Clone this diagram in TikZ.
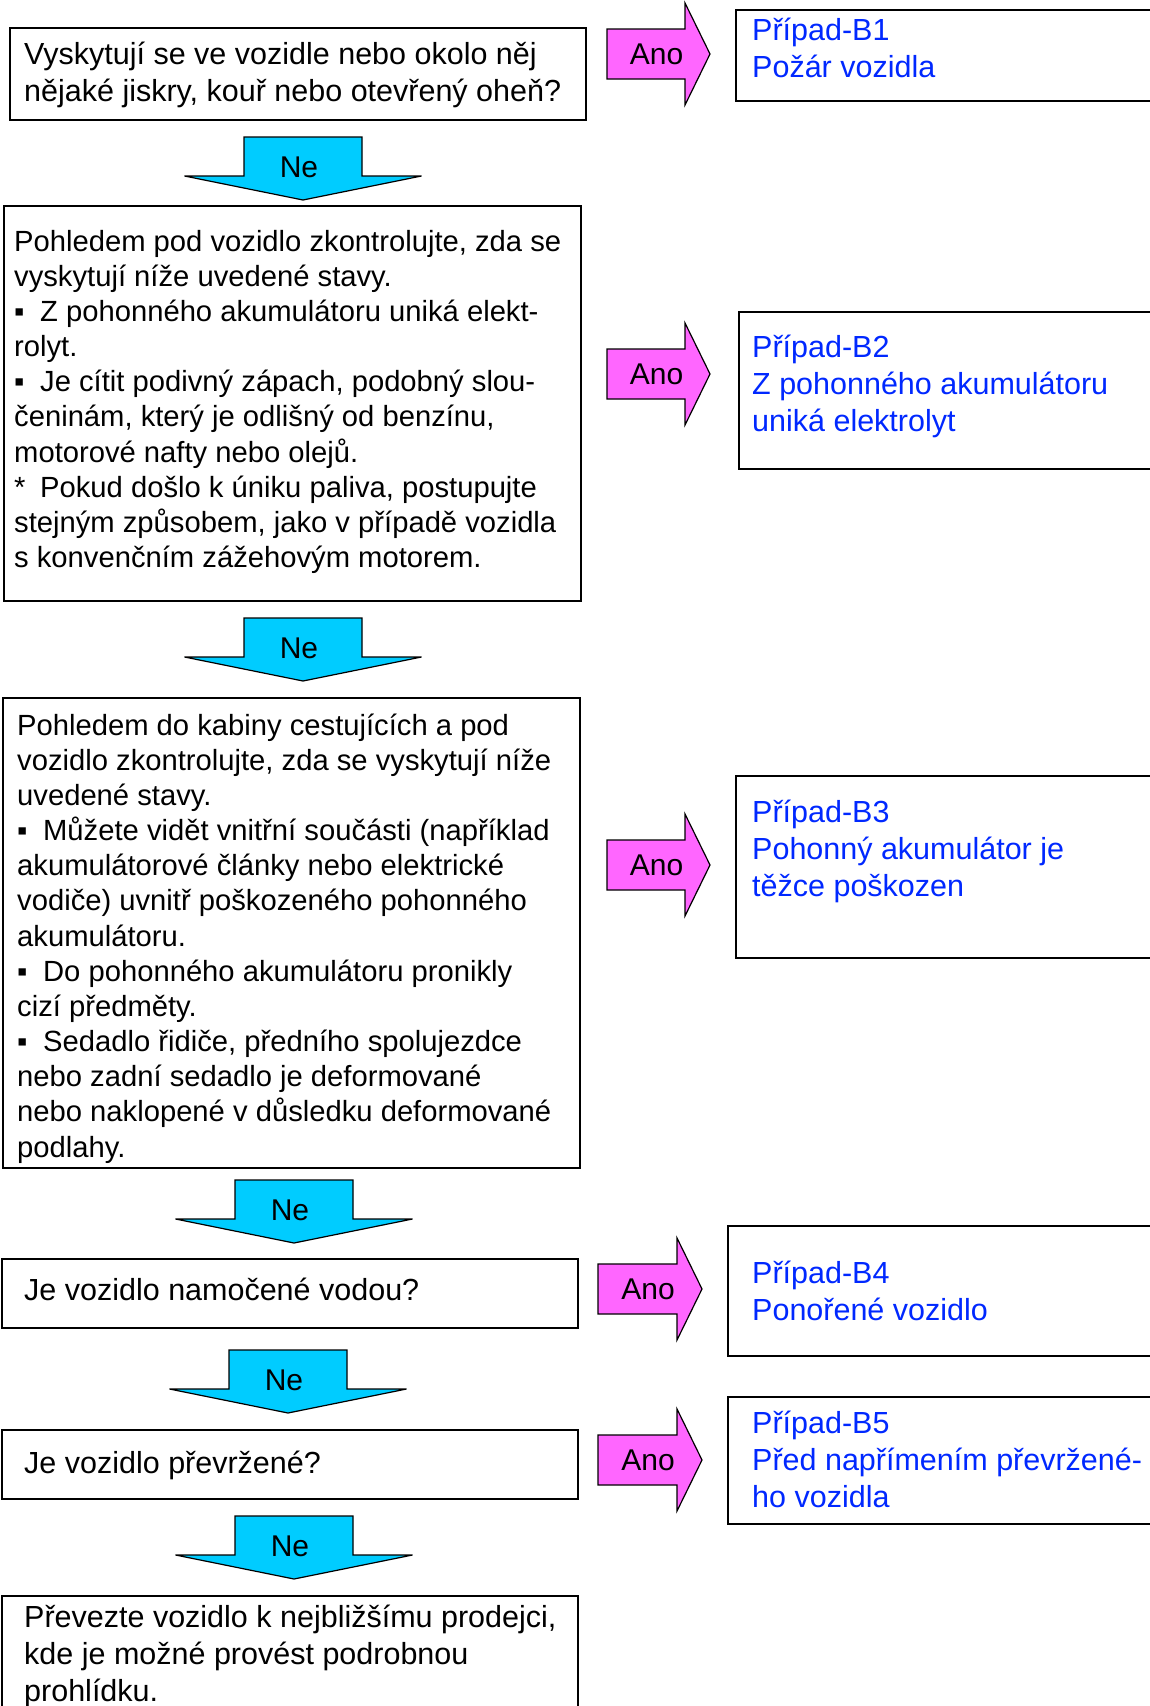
\documentclass[tikz,border=0pt]{standalone}
\usepackage{fontspec}
\setmainfont{Liberation Sans}
\definecolor{anofill}{RGB}{255,102,255}
\definecolor{nefill}{RGB}{0,204,255}
\definecolor{casetext}{RGB}{0,40,255}
\newcommand\bigf{\fontsize{30.5}{37}\selectfont}
\newcommand\smallf{\fontsize{29.2}{35.15}\selectfont}
\newcommand\fl{\rule{0pt}{30pt}}
\newcommand\bul{\makebox[26pt][l]{▪}}
\newcommand\astx{\makebox[26pt][l]{*}}
\tikzset{
  box/.style={draw=black, line width=1.6pt, fill=white, anchor=north west, inner sep=0pt},
  txt/.style={inner sep=0pt, align=left, anchor=north west},
  casetxt/.style={txt, text=casetext, font=\bigf},
  arrowline/.style={draw=black, line width=1.2pt, line join=miter},
  lbl/.style={inner sep=0pt, font=\fontsize{30}{36}\selectfont}
}
\newcommand\anoarrow[5]{%
  \draw[arrowline,fill=anofill] ({#2},{#5-25}) -- ({#3},{#5-25}) -- ({#3},{#5-51}) -- ({#4},{#5}) -- ({#3},{#5+51}) -- ({#3},{#5+25}) -- ({#2},{#5+25}) -- cycle;
  \node[lbl] (#1) at ({(#2+#4)/2-2},{#5}) {Ano};}
\newcommand\nedown[3]{%
  \draw[arrowline,fill=nefill] ({#2-59},{#3}) -- ({#2+59},{#3}) -- ({#2+59},{#3+39}) -- ({#2+118.5},{#3+39}) -- ({#2},{#3+63}) -- ({#2-118.5},{#3+39}) -- ({#2-59},{#3+39}) -- cycle;
  \node[lbl] (#1) at ({#2-4},{#3+30}) {Ne};}
\begin{document}
\begin{tikzpicture}[x=1pt,y=-1pt]
\useasboundingbox (0,0) rectangle (1150,1706);
\clip (0,0) rectangle (1150,1706);
\fill[white] (0,0) rectangle (1150,1706);

% left boxes
\node[box, minimum width=576pt, minimum height=92pt] (q1) at (9,27) {};
\node[box, minimum width=577pt, minimum height=395pt] (q2) at (3,205) {};
\node[box, minimum width=577pt, minimum height=470pt] (q3) at (2,697) {};
\node[box, minimum width=576pt, minimum height=69pt] (q4) at (1,1258) {};
\node[box, minimum width=576pt, minimum height=69pt] (q5) at (1,1429) {};
\node[box, minimum width=576pt, minimum height=130pt] (q6) at (1,1595) {};

% right boxes
\node[box, minimum width=430pt, minimum height=91pt] (c1) at (735,9) {};
\node[box, minimum width=430pt, minimum height=157pt] (c2) at (738,311) {};
\node[box, minimum width=430pt, minimum height=182pt] (c3) at (735,775) {};
\node[box, minimum width=440pt, minimum height=130pt] (c4) at (727,1225) {};
\node[box, minimum width=440pt, minimum height=127pt] (c5) at (727,1396) {};

% texts
\node[txt, font=\bigf] (t1) at (24,34) {\fl Vyskytují se ve vozidle nebo okolo něj\\nějaké jiskry, kouř nebo otevřený oheň?};
\node[txt, font=\smallf] (t2) at (14,221) {\fl Pohledem pod vozidlo zkontrolujte, zda se\\
vyskytují níže uvedené stavy.\\
\bul Z pohonného akumulátoru uniká elekt-\\
rolyt.\\
\bul Je cítit podivný zápach, podobný slou-\\
čeninám, který je odlišný od benzínu,\\
motorové nafty nebo olejů.\\
\astx Pokud došlo k úniku paliva, postupujte\\
stejným způsobem, jako v případě vozidla\\
s konvenčním zážehovým motorem.};
\node[txt, font=\smallf] (t3) at (17,705) {\fl Pohledem do kabiny cestujících a pod\\
vozidlo zkontrolujte, zda se vyskytují níže\\
uvedené stavy.\\
\bul Můžete vidět vnitřní součásti (například\\
akumulátorové články nebo elektrické\\
vodiče) uvnitř poškozeného pohonného\\
akumulátoru.\\
\bul Do pohonného akumulátoru pronikly\\
cizí předměty.\\
\bul Sedadlo řidiče, předního spolujezdce\\
nebo zadní sedadlo je deformované\\
nebo naklopené v důsledku deformované\\
podlahy.};
\node[txt, font=\bigf] (t4) at (24,1270) {\fl Je vozidlo namočené vodou?};
\node[txt, font=\bigf] (t5) at (24,1443) {\fl Je vozidlo převržené?};
\node[txt, font=\bigf] (t6) at (24,1597) {\fl Převezte vozidlo k nejbližšímu prodejci,\\kde je možné provést podrobnou\\prohlídku.};

\node[casetxt] (k1) at (752,10.5) {\fl Případ-B1\\Požár vozidla};
\node[casetxt] (k2) at (752,327) {\fl Případ-B2\\Z pohonného akumulátoru\\uniká elektrolyt};
\node[casetxt] (k3) at (752,792) {\fl Případ-B3\\Pohonný akumulátor je\\těžce poškozen};
\node[casetxt] (k4) at (752,1253) {\fl Případ-B4\\Ponořené vozidlo};
\node[casetxt] (k5) at (752,1403) {\fl Případ-B5\\Před napřímením převržené-\\ho vozidla};

% Ano arrows
\anoarrow{a1}{607}{685}{710}{54}
\anoarrow{a2}{607}{685}{710}{374}
\anoarrow{a3}{607}{685}{710}{865}
\anoarrow{a4}{598}{677}{702}{1289}
\anoarrow{a5}{598}{677}{702}{1460}

% Ne arrows
\nedown{n1}{303}{137}
\nedown{n2}{303}{618}
\nedown{n3}{294}{1180}
\nedown{n4}{288}{1350}
\nedown{n5}{294}{1516}
\end{tikzpicture}
\end{document}
